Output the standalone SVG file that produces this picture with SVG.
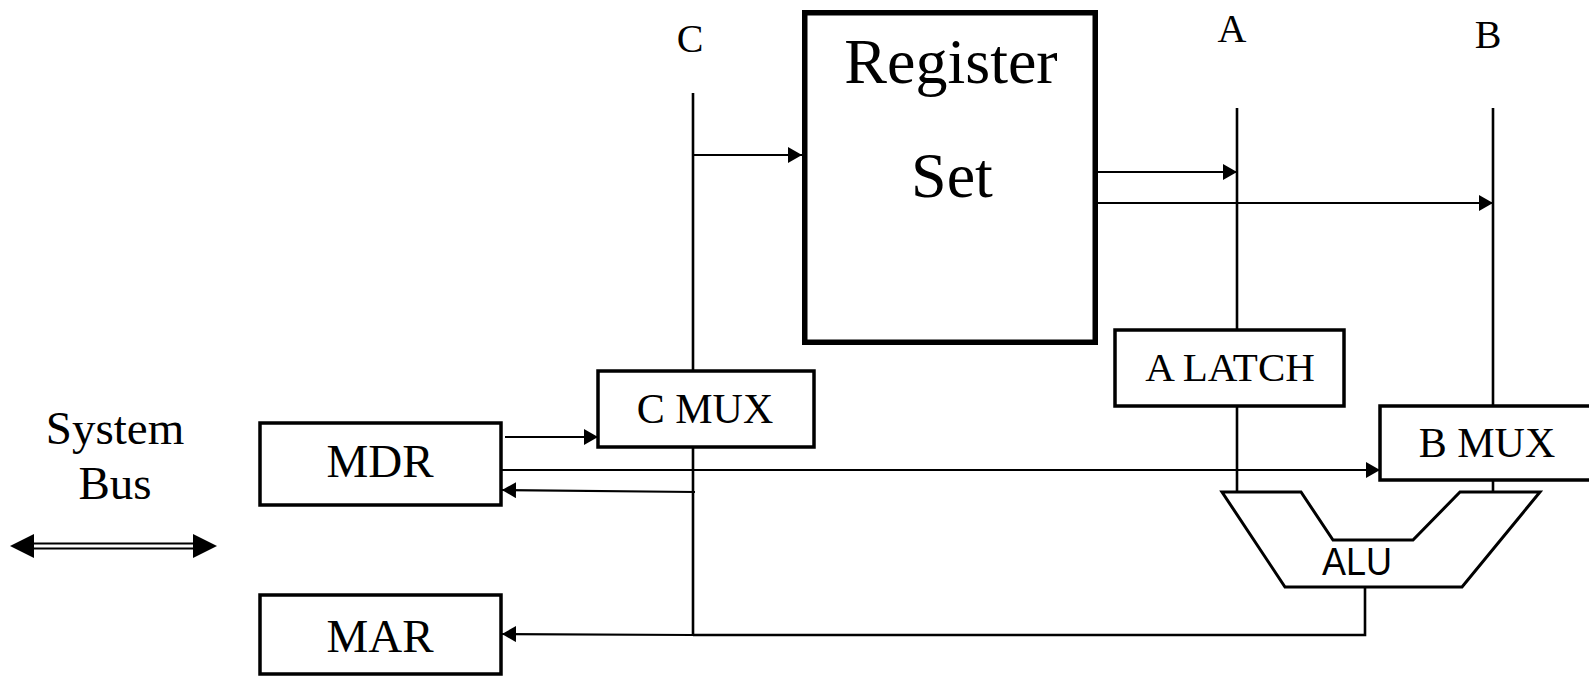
<svg xmlns="http://www.w3.org/2000/svg" width="1589" height="677" viewBox="0 0 1589 677">
<style>
.box{fill:#fff;stroke:#000;stroke-width:3.5}
.thick{fill:#fff;stroke:#000;stroke-width:5.5}
.t{font-family:"Liberation Serif","Times New Roman",serif;fill:#000;text-anchor:middle}
.bus{fill:none;stroke:#000;stroke-width:2.6}
.arr{fill:none;stroke:#000;stroke-width:2.2}
.alu{fill:#fff;stroke:#000;stroke-width:3;stroke-linejoin:miter}
</style>
<defs>
<marker id="ah" markerUnits="userSpaceOnUse" markerWidth="14" markerHeight="16" refX="14" refY="8" orient="auto">
<path d="M0,0 L14,8 L0,16 z" fill="#000"/>
</marker>
</defs>
<rect width="1589" height="677" fill="#fff"/>

<g id="connectors">
<!-- C bus -->
<line class="bus" x1="693" y1="93" x2="693" y2="371"/>
<line class="bus" x1="693" y1="447" x2="693" y2="636"/>
<!-- A bus -->
<line class="bus" x1="1237" y1="108" x2="1237" y2="330"/>
<line class="bus" x1="1237" y1="406" x2="1237" y2="492"/>
<!-- B bus -->
<line class="bus" x1="1493" y1="108" x2="1493" y2="406"/>
<line class="bus" x1="1493" y1="480" x2="1493" y2="492"/>
<!-- C -> Register set -->
<line class="arr" x1="693" y1="155" x2="802" y2="155" marker-end="url(#ah)"/>
<!-- Register set -> A, B -->
<line class="arr" x1="1093" y1="172" x2="1237" y2="172" marker-end="url(#ah)"/>
<line class="arr" x1="1093" y1="203" x2="1493" y2="203" marker-end="url(#ah)"/>
<!-- MDR -> C MUX -->
<line class="arr" x1="505" y1="437" x2="598" y2="437" marker-end="url(#ah)"/>
<!-- MDR -> B MUX -->
<line class="arr" x1="493" y1="470" x2="1380" y2="470" marker-end="url(#ah)"/>
<!-- C bus -> MDR -->
<line class="arr" x1="695" y1="492" x2="502" y2="490" marker-end="url(#ah)"/>
<!-- ALU -> C bus -> MAR -->
<polyline class="bus" points="1365,587 1365,635 693,635"/>
<line class="arr" x1="693" y1="635" x2="502" y2="634" marker-end="url(#ah)"/>
<!-- System bus double arrow -->
<line x1="30" y1="543.5" x2="197" y2="543.5" stroke="#000" stroke-width="2"/>
<line x1="30" y1="548.5" x2="197" y2="548.5" stroke="#000" stroke-width="2"/>
<polygon points="10,546 34,534 34,558" fill="#000"/>
<polygon points="217,546 193,534 193,558" fill="#000"/>
</g>

<g id="labels">
<text class="t" x="690" y="52" font-size="40">C</text>
<text class="t" x="1232" y="42" font-size="40">A</text>
<text class="t" x="1488" y="48" font-size="40">B</text>
<text class="t" x="115" y="444" font-size="47">System</text>
<text class="t" x="115" y="499" font-size="47">Bus</text>
</g>

<g id="register-set">
<rect class="thick" x="804.75" y="12.75" width="290.5" height="329.5"/>
<text class="t" x="951" y="83" font-size="64">Register</text>
<text class="t" x="952" y="197" font-size="64">Set</text>
</g>

<g id="c-mux">
<rect class="box" x="598" y="371" width="216" height="76"/>
<text class="t" x="705" y="423" font-size="42">C MUX</text>
</g>

<g id="a-latch">
<rect class="box" x="1115" y="330" width="229" height="76"/>
<text class="t" x="1230" y="381" font-size="41">A LATCH</text>
</g>

<g id="b-mux">
<rect class="box" x="1380" y="406" width="215" height="74"/>
<text class="t" x="1487" y="457" font-size="42">B MUX</text>
</g>

<g id="mdr">
<rect class="box" x="260" y="423" width="241" height="82"/>
<text class="t" x="380" y="477" font-size="47">MDR</text>
</g>

<g id="mar">
<rect class="box" x="260" y="595" width="241" height="79"/>
<text class="t" x="380" y="652" font-size="47">MAR</text>
</g>

<g id="alu">
<polygon class="alu" points="1222,492 1301,492 1333,540 1413,540 1460,492 1540,492 1462,587 1285,587"/>
<text x="1357" y="575" font-family="Liberation Sans, Arial, sans-serif" font-size="38" text-anchor="middle" textLength="70" lengthAdjust="spacingAndGlyphs">ALU</text>
</g>
</svg>
